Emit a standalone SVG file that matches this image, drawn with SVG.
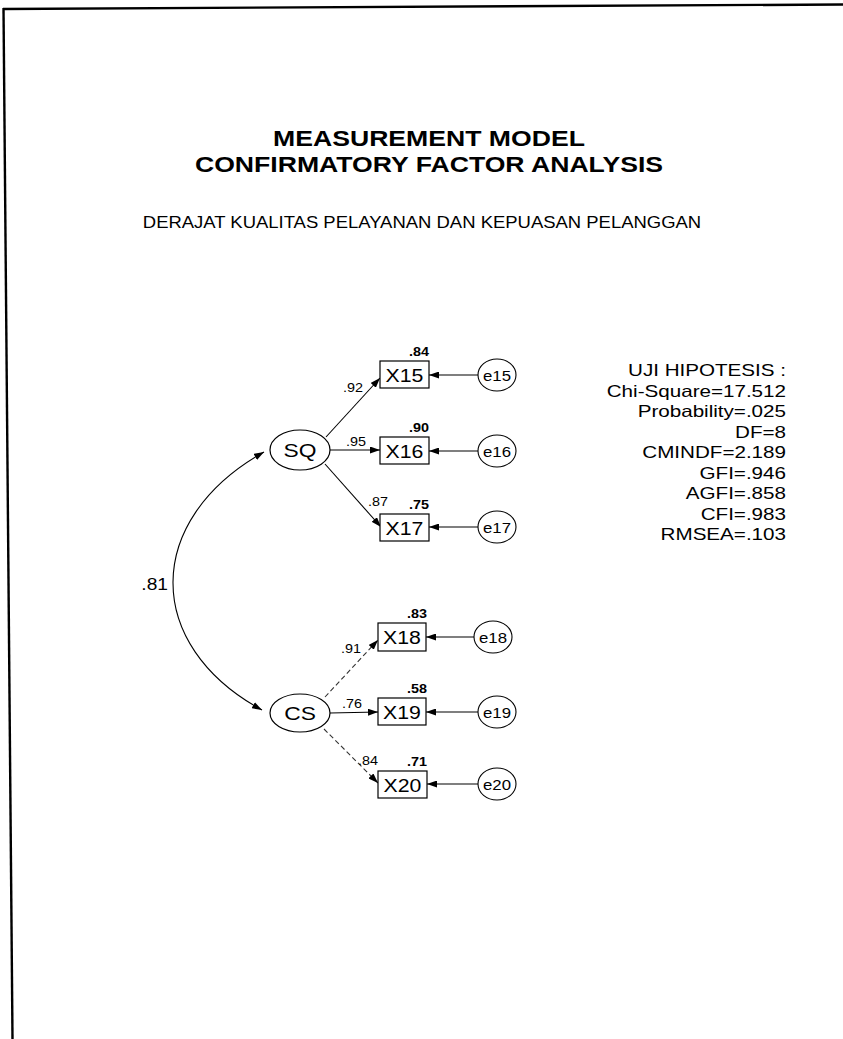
<svg xmlns="http://www.w3.org/2000/svg" width="843" height="1039" viewBox="0 0 843 1039">
<style>
text{font-family:"Liberation Sans",Arial,sans-serif;fill:#000}
.title{font-size:22px;font-weight:bold}
.sub{font-size:16px}
.stat{font-size:16.5px}
.box{fill:#fff;stroke:#000;stroke-width:1.2}
.lat{fill:#fff;stroke:#000;stroke-width:1.2}
.err{fill:#fff;stroke:#000;stroke-width:1.1}
.nl{font-size:19px}
.el{font-size:15px}
.coef{font-size:12.5px}
.r2{font-size:12.5px;font-weight:bold}
.edge{fill:none;stroke:#000;stroke-width:1.1;marker-end:url(#ah)}
.faint{stroke:#333;stroke-dasharray:5 3}
</style>
<defs>
<marker id="ah" viewBox="0 0 10 7" refX="10" refY="3.5" markerWidth="10" markerHeight="7" markerUnits="userSpaceOnUse" orient="auto-start-reverse">
<path d="M0,0 L10,3.5 L0,7 z" fill="#000"/>
</marker>
</defs>
<rect width="843" height="1039" fill="#fff"/>
<g id="frame" stroke="#000" stroke-width="2.4" fill="none">
<path d="M3,9 L843,4.5"/>
<path d="M3.5,8 L12.5,1039"/>
</g>
<g id="titles">
<text class="title" text-anchor="middle" transform="translate(429 145.5) scale(1.21 1)">MEASUREMENT MODEL</text>
<text class="title" text-anchor="middle" transform="translate(429 172) scale(1.21 1)">CONFIRMATORY FACTOR ANALYSIS</text>
<text class="sub" text-anchor="middle" transform="translate(422 228) scale(1.155 1)">DERAJAT KUALITAS PELAYANAN DAN KEPUASAN PELANGGAN</text>
</g>
<g id="stats" class="stat" text-anchor="end">
<text class="stat" transform="translate(786 376) scale(1.25 1)">UJI HIPOTESIS :</text>
<text class="stat" transform="translate(786 396.5) scale(1.25 1)">Chi-Square=17.512</text>
<text class="stat" transform="translate(786 417) scale(1.25 1)">Probability=.025</text>
<text class="stat" transform="translate(786 437.5) scale(1.25 1)">DF=8</text>
<text class="stat" transform="translate(786 458) scale(1.25 1)">CMINDF=2.189</text>
<text class="stat" transform="translate(786 478.5) scale(1.25 1)">GFI=.946</text>
<text class="stat" transform="translate(786 499) scale(1.25 1)">AGFI=.858</text>
<text class="stat" transform="translate(786 519.5) scale(1.25 1)">CFI=.983</text>
<text class="stat" transform="translate(786 540) scale(1.25 1)">RMSEA=.103</text>
</g>
<g id="connectors">
<path class="edge" d="M264,452 C143,520 143,645 262,710" style="marker-start:url(#ah)"/>
<path class="edge" d="M326,437 L380,378"/>
<path class="edge" d="M330,450 L380,450"/>
<path class="edge" d="M325,464 L381,527"/>
<path class="edge faint" d="M325,697 L378,640"/>
<path class="edge" d="M330,713 L378,712"/>
<path class="edge faint" d="M324,729 L378,783"/>
<path class="edge" d="M478,375 L429,375"/>
<path class="edge" d="M478,451 L429,451"/>
<path class="edge" d="M478,527 L429,527"/>
<path class="edge" d="M474,637 L426,637"/>
<path class="edge" d="M478,712 L426,712"/>
<path class="edge" d="M478,784 L427,784"/>
</g>
<g id="edge-labels">
<text class="coef" text-anchor="middle" transform="translate(353 392) scale(1.15 1)">.92</text>
<text class="coef" text-anchor="middle" transform="translate(356 446) scale(1.15 1)">.95</text>
<text class="coef" text-anchor="middle" transform="translate(378 506) scale(1.15 1)">.87</text>
<text class="coef" text-anchor="middle" transform="translate(351 653) scale(1.15 1)">.91</text>
<text class="coef" text-anchor="middle" transform="translate(352 708) scale(1.15 1)">.76</text>
<text class="coef" text-anchor="middle" transform="translate(368 765) scale(1.15 1)">.84</text>
<text style="font-size:16px" text-anchor="end" transform="translate(168 590) scale(1.2 1)">.81</text>
</g>
<g id="SQ"><ellipse class="lat" cx="300" cy="450" rx="30" ry="20"/><text class="nl" text-anchor="middle" transform="translate(300 457) scale(1.2 1)">SQ</text></g>
<g id="CS"><ellipse class="lat" cx="300" cy="713" rx="30" ry="19"/><text class="nl" text-anchor="middle" transform="translate(300 720) scale(1.2 1)">CS</text></g>
<g id="X15"><rect class="box" x="380" y="361" width="49" height="27"/><text class="nl" text-anchor="middle" transform="translate(404.5 381.5) scale(1.12 1)">X15</text><text class="r2" text-anchor="end" transform="translate(429 356) scale(1.15 1)">.84</text></g>
<g id="X16"><rect class="box" x="380" y="437" width="49" height="27"/><text class="nl" text-anchor="middle" transform="translate(404.5 457.5) scale(1.12 1)">X16</text><text class="r2" text-anchor="end" transform="translate(429 432) scale(1.15 1)">.90</text></g>
<g id="X17"><rect class="box" x="380" y="514" width="49" height="27"/><text class="nl" text-anchor="middle" transform="translate(404.5 534.5) scale(1.12 1)">X17</text><text class="r2" text-anchor="end" transform="translate(429 509) scale(1.15 1)">.75</text></g>
<g id="X18"><rect class="box" x="378" y="623" width="48" height="28"/><text class="nl" text-anchor="middle" transform="translate(402 644) scale(1.12 1)">X18</text><text class="r2" text-anchor="end" transform="translate(427 618) scale(1.15 1)">.83</text></g>
<g id="X19"><rect class="box" x="378" y="698" width="48" height="27"/><text class="nl" text-anchor="middle" transform="translate(402 718.5) scale(1.12 1)">X19</text><text class="r2" text-anchor="end" transform="translate(427 693) scale(1.15 1)">.58</text></g>
<g id="X20"><rect class="box" x="378" y="771" width="49" height="27"/><text class="nl" text-anchor="middle" transform="translate(402.5 791.5) scale(1.12 1)">X20</text><text class="r2" text-anchor="end" transform="translate(427 766) scale(1.15 1)">.71</text></g>
<g id="e15"><ellipse class="err" cx="497" cy="375" rx="19" ry="16"/><text class="el" text-anchor="middle" transform="translate(497 380.5) scale(1.12 1)">e15</text></g>
<g id="e16"><ellipse class="err" cx="497" cy="451" rx="19" ry="16"/><text class="el" text-anchor="middle" transform="translate(497 456.5) scale(1.12 1)">e16</text></g>
<g id="e17"><ellipse class="err" cx="497" cy="527" rx="19" ry="16"/><text class="el" text-anchor="middle" transform="translate(497 532.5) scale(1.12 1)">e17</text></g>
<g id="e18"><ellipse class="err" cx="493" cy="637" rx="19" ry="16"/><text class="el" text-anchor="middle" transform="translate(493 642.5) scale(1.12 1)">e18</text></g>
<g id="e19"><ellipse class="err" cx="497" cy="712" rx="19" ry="16"/><text class="el" text-anchor="middle" transform="translate(497 717.5) scale(1.12 1)">e19</text></g>
<g id="e20"><ellipse class="err" cx="497" cy="784" rx="19" ry="16"/><text class="el" text-anchor="middle" transform="translate(497 789.5) scale(1.12 1)">e20</text></g>
</svg>
